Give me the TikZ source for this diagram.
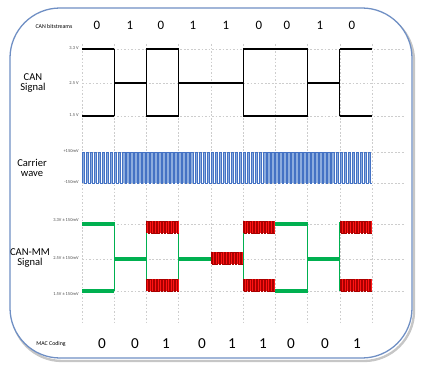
\documentclass[tikz,border=0pt]{standalone}
\usepackage{fontspec}
\setmainfont{Carlito}
\usepackage{tikz}
\usetikzlibrary{
    arrows.meta,
    positioning
}
\usepackage{xcolor}
\definecolor{frameblue}{RGB}{111,143,196}
\definecolor{gridgray}{RGB}{205,205,205}
\definecolor{carrierblue}{RGB}{68,114,196}
\definecolor{carrierfill}{RGB}{140,172,222}
\definecolor{mmgreen}{RGB}{0,176,80}
\definecolor{mmred}{RGB}{255,20,20}
\definecolor{mmdark}{RGB}{170,0,0}

\begin{document}
\begin{tikzpicture}[
        x=0.03cm,
        y=-0.03cm,
        gridline/.style={
            draw=gridgray,
            line width=0.4pt,
            dash pattern=on 1.5pt off 1.5pt
        },
        canlevel/.style={line width=2.4pt, black},
        canedge/.style={line width=1pt, black},
        mmlevel/.style={line width=2.6pt, mmgreen},
        mmedge/.style={line width=0.9pt, mmgreen},
        tick/.style={
            anchor=east,
            inner sep=1pt,
            text=black!70,
            font=\fontsize{3.8}{4}\selectfont
        },
        sidelabel/.style={
            align=center,
            font=\fontsize{9}{8.8}\selectfont
        },
        smalllabel/.style={font=\fontsize{5}{6}\selectfont},
        topbit/.style={font=\fontsize{11}{12}\selectfont},
        macbit/.style={font=\fontsize{13}{14}\selectfont}
    ]

    \useasboundingbox (0,0) rectangle (423,372);

    % frame
    \draw[gray!45, line width=2pt, rounded corners=1.5cm] (12,11) rectangle (414,361);
    \draw[frameblue, fill=white, line width=1.1pt, rounded corners=1.5cm] (10,8) rectangle (412,358);

    % grid
    \foreach \i in {0,...,9}
        \draw[gridline] ({82+32.22*\i},44) -- ({82+32.22*\i},322);
    \foreach \y in {49,83,116,152,183,224,259,291}
        \draw[gridline] (82,\y) -- (405,\y);

    % CAN signal
    \foreach \xa/\xb in {82/114.2, 146.4/178.7, 243.1/307.5, 339.8/372} {
        \draw[canlevel] (\xa,49) -- (\xb,49);
        \draw[canlevel] (\xa,116) -- (\xb,116);
    }
    \foreach \xa/\xb in {114.2/146.4, 178.7/243.1, 307.5/339.8}
        \draw[canlevel] (\xa,83) -- (\xb,83);
    \foreach \x in {114.2,146.4,178.7,243.1,307.5,339.8}
        \draw[canedge] (\x,49) -- (\x,116);

    % carrier
    \foreach \k in {0,...,71}
        \fill[carrierfill] ({82+4.028*\k},152) rectangle ++(2.5,31);
    \draw[carrierblue, line width=0.45pt] (82,183)
        \foreach \k in {1,...,72} { -- ++(0,-31) -- ++(2.5,0) -- ++(0,31) -- ++(1.528,0) };

    % CAN-MM signal
    \foreach \xa/\xb in {82/114.2, 275.3/307.5} {
        \draw[mmlevel] (\xa,224) -- (\xb,224);
        \draw[mmlevel] (\xa,291) -- (\xb,291);
    }
    \foreach \xa/\xb in {114.2/146.4, 178.7/210.9, 307.5/339.8}
        \draw[mmlevel] (\xa,259) -- (\xb,259);
    \foreach \x in {114.2,146.4,178.7,243.1,307.5,339.8}
        \draw[mmedge] (\x,222) -- (\x,291);
    \foreach \bx/\by in {146.4/221, 146.4/279, 210.9/252, 243.1/221, 243.1/279, 339.8/221, 339.8/279} {
        \fill[mmred] (\bx,\by) rectangle ++(32.2,12);
        \draw[mmdark, line width=0.4pt] (\bx,\by+12)
            \foreach \k in {1,...,10} { -- ++(0,-12) -- ++(1.61,0) -- ++(0,12) -- ++(1.61,0) };
    }

    % tick labels
    \node[tick] (v33) at (80,48) {3.3 V};
    \node[tick] (v25) at (80,83) {2.5 V};
    \node[tick] (v15) at (80,115) {1.5 V};
    \node[tick] (cplus) at (80,151) {+150mV};
    \node[tick] (cminus) at (80,182) {-150mV};
    \node[tick] (m33) at (80,220) {3.3V ± 150mV};
    \node[tick] (m25) at (80,258) {2.5V ± 150mV};
    \node[tick] (m15) at (80,294) {1.5V ± 150mV};

    % row labels
    \node[sidelabel] (cansig) at (33,83) {CAN\\Signal};
    \node[sidelabel] (carrier) at (32,168) {Carrier\\wave};
    \node[sidelabel] (mmsig) at (30,258) {CAN-MM\\Signal};
    \node[smalllabel] (bitstreams) at (54,26) {CAN bitstreams};
    \node[smalllabel] (maccoding) at (51,344) {MAC Coding};

    % bits
    \foreach \x/\b [count=\i] in {97/0,130/1,161/0,193/1,226/1,259/0,287/0,320/1,352/0}
        \node[topbit] (can\i) at (\x,25) {\b};
    \foreach \x/\b [count=\i] in {102/0,135/0,166/1,202/0,232/1,263/1,291/0,325/0,357/1}
        \node[macbit] (mac\i) at (\x,344) {\b};

\end{tikzpicture}
\end{document}
